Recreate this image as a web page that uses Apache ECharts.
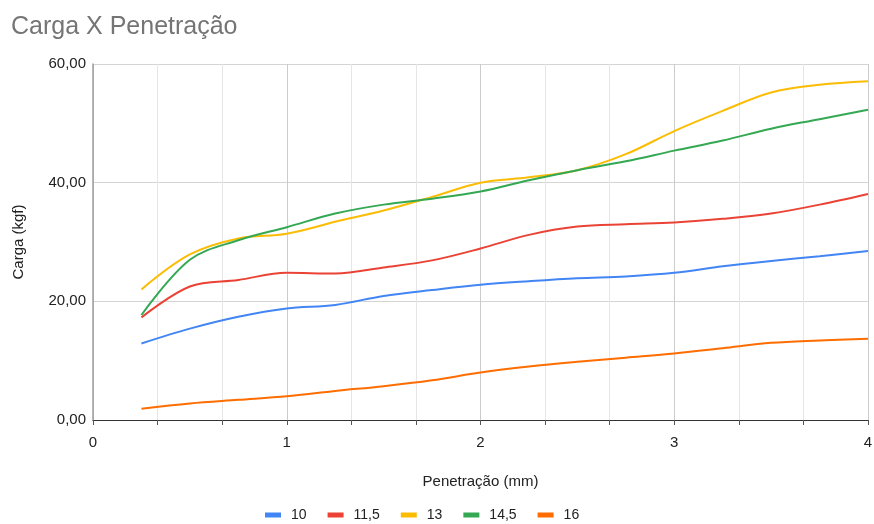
<!DOCTYPE html>
<html>
<head>
<meta charset="utf-8">
<script src="https://cdn.jsdelivr.net/npm/echarts@6/dist/echarts.min.js"></script>
<style>
  html, body { margin: 0; padding: 0; background: #fff; }
  #chart { width: 874px; height: 524px; }
</style>
</head>
<body>
<div id="chart"></div>
<script>
// penetração (mm)
const penetracao = [0.25, 0.5, 0.75, 1, 1.25, 1.5, 1.75, 2, 2.25, 2.5, 2.75, 3, 3.25, 3.5, 3.75, 4];

const serieNames = ['10', '11,5', '13', '14,5', '16'];
const serieColors = ['#4285F4', '#EA4335', '#FBBC04', '#34A853', '#FF6D01'];

const carga10 = [12.9, 15.4, 17.4, 18.8, 19.4, 20.9, 21.9, 22.8, 23.4, 23.9, 24.2, 24.8, 25.9, 26.8, 27.6, 28.5];
const carga11_5 = [17.3, 22.5, 23.6, 24.8, 24.7, 25.7, 26.9, 28.9, 31.2, 32.6, 33.0, 33.3, 33.9, 34.8, 36.3, 38.1];
const carga13 = [22.0, 27.9, 30.6, 31.4, 33.4, 35.3, 37.6, 40.0, 40.9, 42.1, 44.8, 48.7, 52.1, 55.2, 56.5, 57.1];
const carga14_5 = [17.7, 27.0, 30.3, 32.5, 34.8, 36.3, 37.3, 38.5, 40.4, 42.1, 43.6, 45.4, 47.1, 49.1, 50.7, 52.3];
const carga16 = [1.9, 2.8, 3.4, 4.0, 4.9, 5.7, 6.7, 8.0, 9.0, 9.8, 10.5, 11.2, 12.1, 13.0, 13.4, 13.7];

const allSeries = [carga10, carga11_5, carga13, carga14_5, carga16];

const chart = echarts.init(document.getElementById('chart'));

const fmt = v => v.toFixed(2).replace('.', ',');
const font = 'Arial, "Liberation Sans", sans-serif';

const option = {
  animation: false,
  textStyle: { fontFamily: font },
  title: {
    text: 'Carga X Penetração',
    left: 6,
    top: 10,
    textStyle: {
      fontFamily: font,
      fontSize: 25,
      fontWeight: 'normal',
      color: '#757575'
    }
  },
  grid: {
    left: 93,
    right: 6,
    top: 64,
    bottom: 104,
    containLabel: false,
    outerBoundsMode: 'none'
  },
  xAxis: {
    type: 'value',
    min: 0,
    max: 4,
    interval: 1,
    name: 'Penetração (mm)',
    nameLocation: 'middle',
    nameGap: 54,
    nameTextStyle: { color: '#222', fontSize: 15, fontFamily: font },
    axisLine: { show: true, lineStyle: { color: '#333', width: 1 } },
    axisTick: { show: true, length: 5, lineStyle: { color: '#555' } },
    minorTick: { show: true, splitNumber: 3, length: 5, lineStyle: { color: '#555' } },
    axisLabel: { color: '#222', fontSize: 15, margin: 15, fontFamily: font },
    splitLine: { show: true, lineStyle: { color: '#cccccc', width: 1 } },
    minorSplitLine: { show: true, lineStyle: { color: '#e6e6e6', width: 1 } }
  },
  yAxis: {
    type: 'value',
    min: 0,
    max: 60,
    interval: 20,
    name: 'Carga (kgf)',
    nameLocation: 'middle',
    nameGap: 67,
    nameTextStyle: { color: '#222', fontSize: 15, fontFamily: font },
    axisLine: { show: true, lineStyle: { color: '#9e9e9e', width: 1.5 } },
    axisTick: { show: false },
    axisLabel: { color: '#222', fontSize: 15, margin: 7, formatter: fmt, fontFamily: font },
    splitLine: { show: true, lineStyle: { color: '#d4d4d4', width: 1 } }
  },
  legend: {
    left: 260,
    top: 503,
    icon: 'rect',
    itemWidth: 16,
    itemHeight: 5,
    itemGap: 21,
    textStyle: { color: '#222', fontSize: 14, fontFamily: font, padding: [0, 0, 0, 5] },
    data: serieNames
  },
  series: serieNames.map((name, i) => ({
    name: name,
    type: 'line',
    smooth: 0.35,
    showSymbol: false,
    color: serieColors[i],
    lineStyle: { width: 2, color: serieColors[i] },
    data: penetracao.map((x, j) => [x, allSeries[i][j]])
  }))
};

chart.setOption(option);
</script>
</body>
</html>
